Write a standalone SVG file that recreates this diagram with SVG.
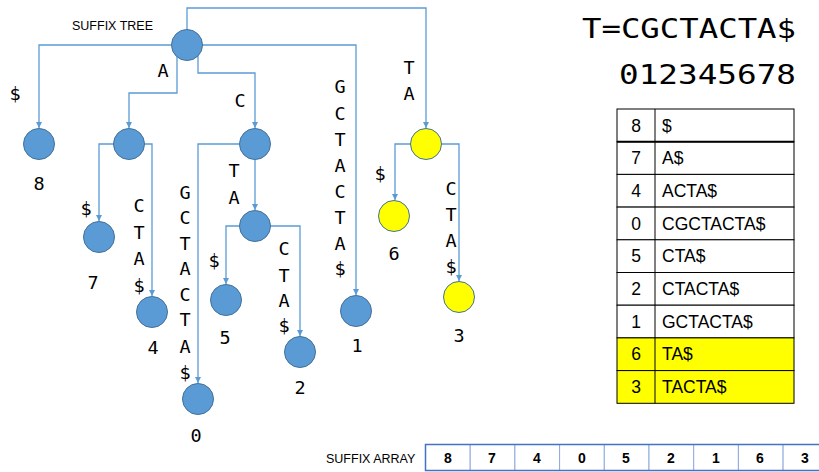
<svg xmlns="http://www.w3.org/2000/svg" width="819" height="472" viewBox="0 0 819 472">
  <defs>
    <marker id="arrow" viewBox="0 0 6 6" refX="6" refY="3" markerWidth="6" markerHeight="6" markerUnits="userSpaceOnUse" orient="auto">
      <path d="M0,0 L6,3 L0,6 z" fill="#5B9BD5"/>
    </marker>
    <style>
      .edge { fill: none; stroke: #5B9BD5; stroke-width: 1.3; marker-end: url(#arrow); }
      .node { fill: #5B9BD5; stroke: #41719C; stroke-width: 1; }
      .node.hl { fill: #FFFF00; }
      .lbl { font-family: "DejaVu Sans Mono", "Liberation Mono", monospace; font-size: 18.5px; fill: #000; text-anchor: middle; }
      .cap { font-family: "Liberation Sans", Arial, sans-serif; font-size: 12.5px; fill: #000; }
      .title { font-family: "DejaVu Sans Mono", "Liberation Mono", monospace; font-size: 26px; fill: #000; }
      .cell { fill: #fff; stroke: #000; stroke-width: 1; }
      .cell.hl { fill: #FFFF00; }
      .tt { font-family: "Liberation Sans", Arial, sans-serif; font-size: 17.5px; fill: #000; }
      .sa { fill: #fff; stroke: #8FAADC; stroke-width: 1; }
      .san { font-family: "Liberation Sans", Arial, sans-serif; font-size: 14px; font-weight: bold; fill: #000; text-anchor: middle; }
    </style>
  </defs>

  <text class="cap" x="72" y="30">SUFFIX TREE</text>

  <!-- connectors -->
  <g id="edges">
    <path class="edge" d="M171.5,45 H39 V128"/>
    <path class="edge" d="M177,57 V93 H129 V128"/>
    <path class="edge" d="M198,56 V73 H255 V128"/>
    <path class="edge" d="M187,29.5 V8 H426 V128"/>
    <path class="edge" d="M202.5,45 H356 V295"/>
    <path class="edge" d="M113.5,144 H99 V221"/>
    <path class="edge" d="M144.5,144 H152 V296"/>
    <path class="edge" d="M239.5,144 H198 V383"/>
    <path class="edge" d="M255,159.5 V210"/>
    <path class="edge" d="M239.5,226 H226 V284"/>
    <path class="edge" d="M270.5,226 H300 V336"/>
    <path class="edge" d="M410.5,144 H395 V200"/>
    <path class="edge" d="M441.5,144 H459 V281"/>
  </g>

  <!-- edge labels -->
  <g id="edge-labels" class="lbl">
    <text x="15" y="100">$</text>
    <text x="163" y="77">A</text>
    <text x="240" y="107">C</text>
    <text x="409" y="74">T</text>
    <text x="409" y="100">A</text>
    <!-- GCTACTA$ to leaf 1 -->
    <text x="340" y="93">G</text>
    <text x="340" y="120">C</text>
    <text x="340" y="146">T</text>
    <text x="340" y="172">A</text>
    <text x="340" y="198">C</text>
    <text x="340" y="224">T</text>
    <text x="340" y="250">A</text>
    <text x="340" y="275">$</text>
    <!-- below A -->
    <text x="86" y="215">$</text>
    <text x="139" y="212">C</text>
    <text x="139" y="239">T</text>
    <text x="139" y="265">A</text>
    <text x="139" y="292">$</text>
    <!-- below C -->
    <text x="185" y="199">G</text>
    <text x="185" y="224">C</text>
    <text x="185" y="250">T</text>
    <text x="185" y="275">A</text>
    <text x="185" y="301">C</text>
    <text x="185" y="326">T</text>
    <text x="185" y="353">A</text>
    <text x="185" y="379">$</text>
    <text x="234" y="177">T</text>
    <text x="234" y="204">A</text>
    <!-- below CTA -->
    <text x="214" y="267">$</text>
    <text x="284" y="255">C</text>
    <text x="284" y="282">T</text>
    <text x="284" y="307">A</text>
    <text x="284" y="332">$</text>
    <!-- below TA -->
    <text x="380" y="180">$</text>
    <text x="451" y="195">C</text>
    <text x="451" y="221">T</text>
    <text x="451" y="247">A</text>
    <text x="451" y="273">$</text>
  </g>

  <!-- nodes -->
  <g id="root"><circle class="node" cx="187" cy="45" r="15.5"/></g>
  <g id="n-a"><circle class="node" cx="129" cy="144" r="15.5"/></g>
  <g id="n-c"><circle class="node" cx="255" cy="144" r="15.5"/></g>
  <g id="n-ta"><circle class="node hl" cx="426" cy="144" r="15.5"/></g>
  <g id="n-cta"><circle class="node" cx="255" cy="226" r="15.5"/></g>
  <g id="leaf-8"><circle class="node" cx="39" cy="144" r="15.5"/><text class="lbl" x="39" y="190">8</text></g>
  <g id="leaf-7"><circle class="node" cx="99" cy="237" r="15.5"/><text class="lbl" x="93" y="289">7</text></g>
  <g id="leaf-4"><circle class="node" cx="152" cy="312" r="15.5"/><text class="lbl" x="153" y="354">4</text></g>
  <g id="leaf-0"><circle class="node" cx="198" cy="399" r="15.5"/><text class="lbl" x="196" y="442">0</text></g>
  <g id="leaf-5"><circle class="node" cx="226" cy="300" r="15.5"/><text class="lbl" x="225" y="344">5</text></g>
  <g id="leaf-2"><circle class="node" cx="300" cy="352" r="15.5"/><text class="lbl" x="300" y="394">2</text></g>
  <g id="leaf-1"><circle class="node" cx="356" cy="311" r="15.5"/><text class="lbl" x="357" y="352">1</text></g>
  <g id="leaf-6"><circle class="node hl" cx="394" cy="216" r="15.5"/><text class="lbl" x="394" y="260">6</text></g>
  <g id="leaf-3"><circle class="node hl" cx="459" cy="297" r="15.5"/><text class="lbl" x="459" y="342">3</text></g>

  <!-- text and positions -->
  <text class="title" x="582" y="38" textLength="214" lengthAdjust="spacingAndGlyphs">T=CGCTACTA$</text>
  <text class="title" x="619" y="84" textLength="177" lengthAdjust="spacingAndGlyphs">012345678</text>

  <!-- sorted suffixes table -->
  <g id="table">
    <rect class="cell" x="617" y="109" width="177" height="32.7"/>
    <rect class="cell" x="617" y="141.7" width="177" height="32.7"/>
    <rect class="cell" x="617" y="174.4" width="177" height="32.7"/>
    <rect class="cell" x="617" y="207.1" width="177" height="32.7"/>
    <rect class="cell" x="617" y="239.8" width="177" height="32.7"/>
    <rect class="cell" x="617" y="272.5" width="177" height="32.7"/>
    <rect class="cell" x="617" y="305.2" width="177" height="32.7"/>
    <rect class="cell hl" x="617" y="337.9" width="177" height="32.7"/>
    <rect class="cell hl" x="617" y="370.6" width="177" height="32.7"/>
    <line x1="655" y1="109" x2="655" y2="403.3" stroke="#000" stroke-width="1"/>
    <line x1="617" y1="141.7" x2="794" y2="141.7" stroke="#000" stroke-width="2"/>
    <g class="tt" text-anchor="middle">
      <text x="636" y="132">8</text>
      <text x="636" y="164">7</text>
      <text x="636" y="197">4</text>
      <text x="636" y="230">0</text>
      <text x="636" y="262">5</text>
      <text x="636" y="295">2</text>
      <text x="636" y="328">1</text>
      <text x="636" y="360">6</text>
      <text x="636" y="393">3</text>
    </g>
    <g class="tt">
      <text x="662" y="132">$</text>
      <text x="662" y="164">A$</text>
      <text x="662" y="197">ACTA$</text>
      <text x="662" y="230">CGCTACTA$</text>
      <text x="662" y="262">CTA$</text>
      <text x="662" y="295">CTACTA$</text>
      <text x="662" y="328">GCTACTA$</text>
      <text x="662" y="360">TA$</text>
      <text x="662" y="393">TACTA$</text>
    </g>
  </g>

  <!-- suffix array -->
  <g id="suffix-array">
    <text class="cap" x="326" y="463">SUFFIX ARRAY</text>
    <rect class="sa" x="425.5" y="444.5" width="44.7" height="26"/>
    <rect class="sa" x="470.2" y="444.5" width="44.7" height="26"/>
    <rect class="sa" x="514.9" y="444.5" width="44.7" height="26"/>
    <rect class="sa" x="559.6" y="444.5" width="44.7" height="26"/>
    <rect class="sa" x="604.3" y="444.5" width="44.7" height="26"/>
    <rect class="sa" x="649" y="444.5" width="44.7" height="26"/>
    <rect class="sa" x="693.7" y="444.5" width="44.7" height="26"/>
    <rect class="sa" x="738.4" y="444.5" width="44.7" height="26"/>
    <rect class="sa" x="783.1" y="444.5" width="44.7" height="26"/>
    <path d="M827,444.5 H425.5 V470.5 H827" fill="none" stroke="#4472C4" stroke-width="1.5"/>
    <text class="san" x="448" y="463">8</text>
    <text class="san" x="492" y="463">7</text>
    <text class="san" x="537" y="463">4</text>
    <text class="san" x="582" y="463">0</text>
    <text class="san" x="626" y="463">5</text>
    <text class="san" x="671" y="463">2</text>
    <text class="san" x="716" y="463">1</text>
    <text class="san" x="760" y="463">6</text>
    <text class="san" x="805" y="463">3</text>
  </g>
</svg>
